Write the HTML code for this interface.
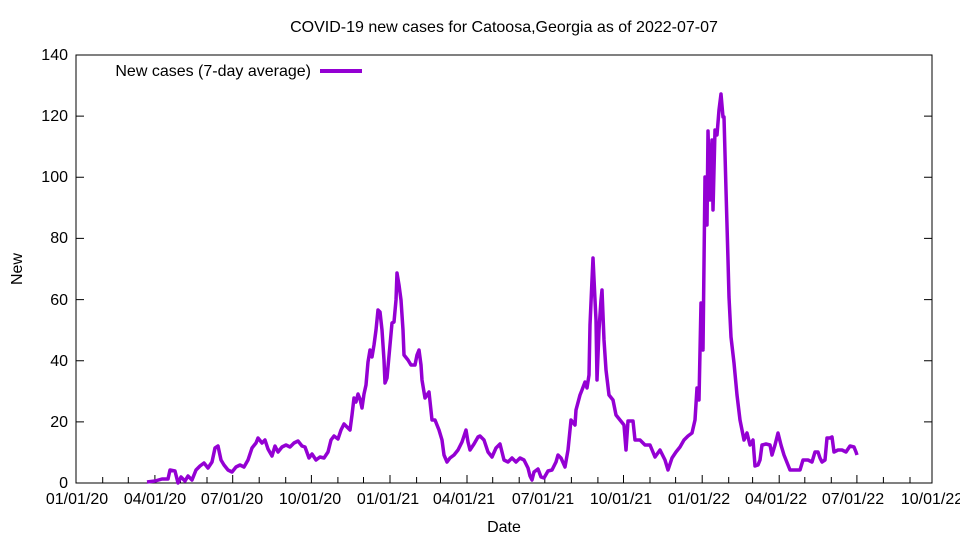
<!DOCTYPE html>
<html><head><meta charset="utf-8"><style>
html,body{margin:0;padding:0;background:#fff;}
svg{display:block;font-family:"Liberation Sans",sans-serif;}
</style></head><body>
<svg width="960" height="540" viewBox="0 0 960 540">
<rect width="960" height="540" fill="#fff"/>
<text x="504" y="32" font-size="16" text-anchor="middle">COVID-19 new cases for Catoosa,Georgia as of 2022-07-07</text>
<g stroke="#000" stroke-width="1">
<rect x="76" y="55" width="856" height="428" fill="none"/>
<path d="M76 483h8M932 483h-8M76 421.9h8M932 421.9h-8M76 360.7h8M932 360.7h-8M76 299.6h8M932 299.6h-8M76 238.4h8M932 238.4h-8M76 177.3h8M932 177.3h-8M76 116.1h8M932 116.1h-8"/>
<path d="M102.7 483v-6M128.3 483v-6M154.9 483v-8M180.5 483v-6M207 483v-6M232.7 483v-8M259.2 483v-6M285.7 483v-6M311.4 483v-8M337.9 483v-6M363.5 483v-6M390 483v-8M416.6 483v-6M440.5 483v-6M467 483v-8M492.7 483v-6M519.2 483v-6M544.8 483v-8M571.4 483v-6M597.9 483v-6M623.5 483v-8M650 483v-6M675.6 483v-6M702.2 483v-8M728.7 483v-6M752.6 483v-6M779.2 483v-8M804.8 483v-6M831.3 483v-6M856.9 483v-8M883.4 483v-6M910 483v-6"/>
</g>
<g font-size="16" text-anchor="end">
<text x="68" y="488">0</text><text x="68" y="427">20</text><text x="68" y="366">40</text><text x="68" y="305">60</text><text x="68" y="243">80</text><text x="68" y="182">100</text><text x="68" y="121">120</text><text x="68" y="60">140</text>
</g>
<g font-size="16" text-anchor="middle">
<text x="77" y="504">01/01/20</text><text x="155" y="504">04/01/20</text><text x="232" y="504">07/01/20</text><text x="310" y="504">10/01/20</text><text x="388" y="504">01/01/21</text><text x="464" y="504">04/01/21</text><text x="543" y="504">07/01/21</text><text x="621" y="504">10/01/21</text><text x="699" y="504">01/01/22</text><text x="776" y="504">04/01/22</text><text x="853" y="504">07/01/22</text><text x="932" y="504">10/01/22</text>
<text x="504" y="532">Date</text>
<text x="22" y="269" transform="rotate(-90 22 269)">New</text>
</g>
<text x="311" y="76" font-size="16" text-anchor="end">New cases (7-day average)</text>
<line x1="320" y1="71" x2="362" y2="71" stroke="#9400d3" stroke-width="4"/>
<polyline fill="none" stroke="#9400d3" stroke-width="3.5" stroke-linejoin="round" points="147,482 155,481 162,479 168,479 170,470 175,471 178,483 181,477 185,481 188,476 192,480 196,470 200,466 204,463 208,468 212,462 215,448 218,446 221,460 224,465 228,470 232,472 236,467 240,465 244,467 248,460 252,448 256,443 258,438 262,443 265,440 268,449 272,456 275,446 278,452 282,447 286,445 290,447 294,443 298,441 302,446 305,447 309,458 312,454 316,460 320,457 324,458 328,452 331,440 334,436 338,439 341,430 344,424 347,427 350,430 352,415 354,398 356,402 358,394 360,399 362,408 364,394 366,385 368,362 370,350 372,357 374,345 376,330 378,310 380,312 382,330 384,360 385,383 387,378 390,345 392,323 394,322 396,300 397,273 399,285 401,300 403,330 404,355 408,360 411,365 415,365 417,355 419,350 421,365 422,380 425,398 429,392 432,420 435,420 439,430 442,440 444,455 447,462 450,458 454,455 458,450 462,442 464,436 466,430 468,442 470,450 474,444 478,437 480,436 484,440 488,452 492,457 496,448 500,444 504,460 508,462 512,458 516,462 520,458 524,460 528,468 530,476 532,480 534,472 538,469 541,477 544,478 548,471 552,470 556,462 558,455 561,458 565,467 568,450 571,420 575,425 576,410 580,395 582,390 585,382 587,388 589,375 590,325 592,280 593,258 595,300 596,320 597,380 599,330 601,300 602,290 604,340 606,370 609,395 613,400 616,415 620,420 624,425 626,450 628,421 633,421 635,440 640,440 645,445 650,445 655,457 660,450 665,460 668,470 672,458 676,452 680,447 684,440 688,436 692,433 695,420 697,388 699,400 701,303 703,350 705,177 707,225 708,131 710,200 712,140 713,210 715,130 717,135 719,110 721,94 723,117 724,117 726,190 728,260 729,297 731,337 734,363 737,395 740,420 744,440 747,433 750,445 753,440 755,466 758,465 760,460 762,445 766,444 770,445 772,455 775,445 778,433 781,445 784,455 788,465 790,470 794,470 800,470 803,460 808,460 812,462 815,452 818,452 820,458 822,462 825,460 827,438 830,438 832,437 834,452 838,450 842,450 846,452 850,446 854,447 856,452 857,455"/>
</svg>
</body></html>
